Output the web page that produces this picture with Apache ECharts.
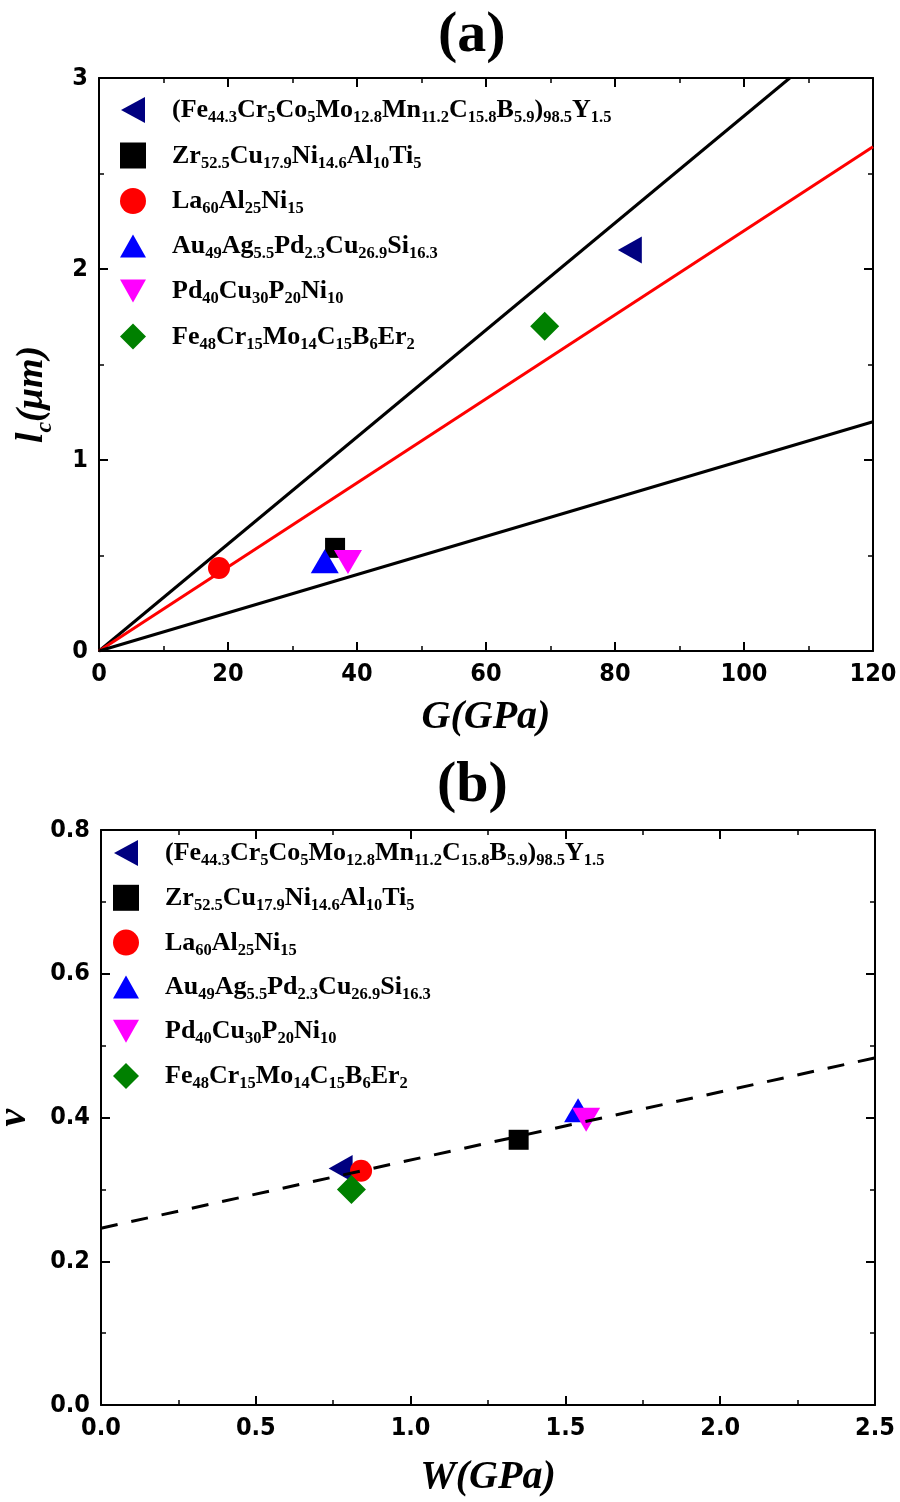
<!DOCTYPE html>
<html><head><meta charset="utf-8">
<script src="https://cdn.jsdelivr.net/npm/echarts@6/dist/echarts.min.js"></script>
<style>html,body{margin:0;padding:0;background:#fff}#c{width:900px;height:1502px}</style>
</head><body><div id="c"></div>
<script>
// ---------- data ----------
const alloys = [
  '(Fe44.3Cr5Co5Mo12.8Mn11.2C15.8B5.9)98.5Y1.5',
  'Zr52.5Cu17.9Ni14.6Al10Ti5',
  'La60Al25Ni15',
  'Au49Ag5.5Pd2.3Cu26.9Si16.3',
  'Pd40Cu30P20Ni10',
  'Fe48Cr15Mo14C15B6Er2'
];
// formula pieces: [element, subscript]
const formulas = [
  [['(Fe','44.3'],['Cr','5'],['Co','5'],['Mo','12.8'],['Mn','11.2'],['C','15.8'],['B','5.9'],[')','98.5'],['Y','1.5']],
  [['Zr','52.5'],['Cu','17.9'],['Ni','14.6'],['Al','10'],['Ti','5']],
  [['La','60'],['Al','25'],['Ni','15']],
  [['Au','49'],['Ag','5.5'],['Pd','2.3'],['Cu','26.9'],['Si','16.3']],
  [['Pd','40'],['Cu','30'],['P','20'],['Ni','10']],
  [['Fe','48'],['Cr','15'],['Mo','14'],['C','15'],['B','6'],['Er','2']]
];
// panel (a): shear modulus G (GPa) vs critical length lc (um)
const G  = [82.3, 36.6, 18.6, 35.0, 38.6, 69.1];
const lc = [2.10, 0.54, 0.435, 0.47, 0.466, 1.70];
// panel (b): W (GPa) vs Poisson ratio nu
const W  = [0.774, 1.349, 0.84, 1.541, 1.567, 0.809];
const nu = [0.329, 0.369, 0.326, 0.410, 0.397, 0.300];
// guide lines
const lineHigh = [[0, 0], [107.1, 3]];
const lineRed  = [[0, 0], [120, 2.64]];
const lineLow  = [[0, 0], [120, 1.20]];
const fitNu    = [[0, 0.246], [2.5, 0.483]];
// ticks
const ticksG  = [0, 20, 40, 60, 80, 100, 120];
const ticksLc = [0, 1, 2, 3];
const ticksW  = [0.0, 0.5, 1.0, 1.5, 2.0, 2.5];
const ticksNu = [0.0, 0.2, 0.4, 0.6, 0.8];

// ---------- styles ----------
const SERIF = "'Liberation Serif','Times New Roman',serif";
const NARROW = "'Liberation Sans Narrow','Arial Narrow','DejaVu Sans Condensed',sans-serif";
const SYM = [
  {symbol: 'path://M0,13.5L24,0L24,27Z', size: [24, 27], color: '#000080'},
  {symbol: 'rect', size: 20, color: '#000000'},
  {symbol: 'circle', size: 22, color: '#FF0000'},
  {symbol: 'triangle', size: [28, 24], color: '#0000FF'},
  {symbol: 'path://M0,0L28,0L14,24Z', size: [28, 24], color: '#FF00FF'},
  {symbol: 'diamond', size: [29, 29], color: '#008000'}
];
const ICON = [
  'path://M0,13L24,0L24,26Z',
  'path://M0,0L20,0L20,20L0,20Z',
  'path://M11,0A11,11,0,1,1,11,22A11,11,0,1,1,11,0Z',
  'path://M13,0L26,23L0,23Z',
  'path://M0,0L26,0L13,23Z',
  'path://M13,0L26,13L13,26L0,13Z'
];
const richText = {};
alloys.forEach((n, i) => {
  richText[n] = '{g| }' + formulas[i].map(p => '{m|' + p[0] + '}{s|' + p[1] + '}').join('');
});
const legendRich = {
  g: {width: 21},
  m: {fontFamily: SERIF, fontWeight: 'bold', fontSize: 26, color: '#000', verticalAlign: 'top', padding: [4, 0, 0, 0]},
  s: {fontFamily: SERIF, fontWeight: 'bold', fontSize: 16.5, color: '#000', verticalAlign: 'top', padding: [16, 0, 0, 0]}
};
function legendAt(left, top, gap) {
  return {
    left: left, top: top, orient: 'vertical', padding: 0, itemGap: gap,
    itemWidth: 26, itemHeight: 26, selectedMode: false,
    data: alloys.map((n, i) => ({name: n, icon: ICON[i]})),
    formatter: n => richText[n],
    textStyle: {rich: legendRich}
  };
}
const tickLabel = {fontFamily: NARROW, fontWeight: 'bold', fontSize: 25, color: '#000'};
function axis(o) {
  const base = {
    type: 'value', min: o.ticks[0], max: o.ticks[o.ticks.length - 1],
    interval: o.ticks[1] - o.ticks[0], gridIndex: o.grid, position: o.pos,
    axisLine: {show: true, onZero: false, lineStyle: {color: '#000', width: 2}},
    axisTick: {show: true, inside: true, length: 9, lineStyle: {color: '#000', width: 2}},
    minorTick: {show: true, splitNumber: 2, length: 5, lineStyle: {color: '#000', width: 1.5}},
    splitLine: {show: false},
    axisLabel: o.label ? Object.assign({margin: 11, formatter: o.fmt}, tickLabel) : {show: false}
  };
  if (o.name) {
    Object.assign(base, {name: o.name, nameLocation: 'middle', nameGap: o.nameGap,
      nameMoveOverlap: false, nameRotate: o.nameRotate, nameTextStyle: o.nameStyle});
  }
  return base;
}
const nameStyle = {fontFamily: SERIF, fontStyle: 'italic', fontWeight: 'bold', fontSize: 40, color: '#000'};

const series = [];
alloys.forEach((n, i) => {
  series.push({
    type: 'scatter', name: n, xAxisIndex: 0, yAxisIndex: 0,
    symbol: SYM[i].symbol, symbolSize: SYM[i].size, itemStyle: {color: SYM[i].color, opacity: 1},
    data: [[G[i], lc[i]]], z: 3
  });
});
[[lineHigh, '#000'], [lineRed, '#FF0000'], [lineLow, '#000']].forEach(([d, c]) => {
  series.push({type: 'line', xAxisIndex: 0, yAxisIndex: 0, data: d, showSymbol: false,
    lineStyle: {color: c, width: 3}, z: 2, silent: true});
});
alloys.forEach((n, i) => {
  series.push({
    type: 'scatter', name: n, xAxisIndex: 2, yAxisIndex: 2,
    symbol: SYM[i].symbol, symbolSize: SYM[i].size, itemStyle: {color: SYM[i].color, opacity: 1},
    data: [[W[i], nu[i]]], z: 2
  });
});
series.push({type: 'line', xAxisIndex: 2, yAxisIndex: 2, data: fitNu, showSymbol: false,
  lineStyle: {color: '#000', width: 3, type: [17, 14]}, z: 3, silent: true});

const option = {
  backgroundColor: '#fff',
  animation: false,
  title: [
    {text: '(a)', left: 433, top: 2, textStyle: {fontFamily: SERIF, fontWeight: 'bold', fontSize: 58, color: '#000'}},
    {text: '(b)', left: 432, top: 752, textStyle: {fontFamily: SERIF, fontWeight: 'bold', fontSize: 58, color: '#000'}}
  ],
  grid: [
    {left: 99, top: 78, width: 774, height: 573, outerBoundsMode: 'none', containLabel: false},
    {left: 101, top: 830, width: 774, height: 575, outerBoundsMode: 'none', containLabel: false}
  ],
  legend: [legendAt(120, 97, 16), legendAt(113, 840, 15.3)],
  xAxis: [
    axis({ticks: ticksG, grid: 0, pos: 'bottom', label: true, fmt: v => String(v),
      name: 'G(GPa)', nameGap: 47, nameStyle: nameStyle}),
    axis({ticks: ticksG, grid: 0, pos: 'top'}),
    axis({ticks: ticksW, grid: 1, pos: 'bottom', label: true, fmt: v => v.toFixed(1),
      name: 'W(GPa)', nameGap: 53, nameStyle: nameStyle}),
    axis({ticks: ticksW, grid: 1, pos: 'top'})
  ],
  yAxis: [
    axis({ticks: ticksLc, grid: 0, pos: 'left', label: true, fmt: v => String(v),
      name: '{i|l}{c|c}{i|(μm)}', nameGap: 42, nameRotate: 90,
      nameStyle: {padding: [0, 60, 0, 0], rich: {
        i: {fontFamily: SERIF, fontStyle: 'italic', fontWeight: 'bold', fontSize: 38, color: '#000', verticalAlign: 'top'},
        c: {fontFamily: SERIF, fontStyle: 'italic', fontWeight: 'bold', fontSize: 24, color: '#000', verticalAlign: 'top', padding: [20, 0, 0, 0]}
      }}}),
    axis({ticks: ticksLc, grid: 0, pos: 'right'}),
    axis({ticks: ticksNu, grid: 1, pos: 'left', label: true, fmt: v => v.toFixed(1),
      name: 'ν', nameGap: 66, nameRotate: 90, nameStyle: nameStyle}),
    axis({ticks: ticksNu, grid: 1, pos: 'right'})
  ],
  series: series
};
const chart = echarts.init(document.getElementById('c'), null, {renderer: 'canvas'});
chart.setOption(option);
</script>
</body></html>
